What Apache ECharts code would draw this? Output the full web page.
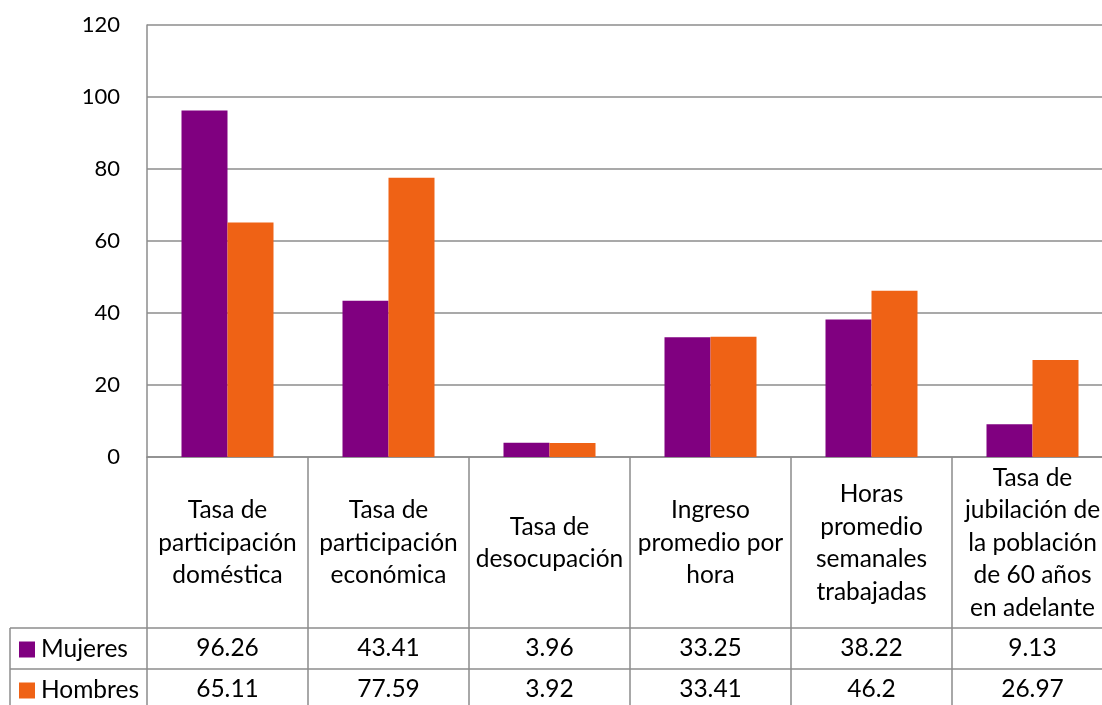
<!DOCTYPE html>
<html><head><meta charset="utf-8">
<script src="https://cdn.jsdelivr.net/npm/echarts@6/dist/echarts.min.js"></script>
<style>html,body{margin:0;padding:0;background:#fff}#c{width:1102px;height:705px}</style>
</head><body><div id="c"></div>
<script>
const categories = [
  'Tasa de\nparticipación\ndoméstica',
  'Tasa de\nparticipación\neconómica',
  'Tasa de\ndesocupación',
  'Ingreso\npromedio por\nhora',
  'Horas\npromedio\nsemanales\ntrabajadas',
  'Tasa de\njubilación de\nla población\nde 60 años\nen adelante'
];
const mujeres = [96.26, 43.41, 3.96, 33.25, 38.22, 9.13];
const hombres = [65.11, 77.59, 3.92, 33.41, 46.2, 26.97];
const yTicks = [0, 20, 40, 60, 80, 100, 120];

const FONT = 'Lato, "Open Sans", sans-serif';
const GRID = '#8c8c8c';
const PURPLE = '#800080';
const ORANGE = '#EF6215';
const FS = 24.5;

const chart = echarts.init(document.getElementById('c'), null, {renderer: 'canvas'});
const valueAxis = (arr, offset) => ({
  type: 'category', data: categories, position: 'bottom', offset: offset,
  axisLine: {show: false}, axisTick: {show: false},
  axisLabel: {
    margin: 0, verticalAlign: 'middle', interval: 0, fontFamily: FONT, fontSize: FS, color: '#000',
    formatter: (v, i) => String(arr[i])
  }
});
const legendItem = (name, top) => ({
  orient: 'vertical', left: 19, top: top, itemWidth: 16, itemHeight: 16,
  icon: 'rect', padding: 0,
  textStyle: {fontFamily: FONT, fontSize: FS, color: '#000', padding: [0, 0, 0, 1]},
  data: [name]
});
chart.setOption({
  animation: false,
  grid: {left: 147, top: 25, width: 966, bottom: 248, containLabel: false, outerBoundsMode: 'none'},
  legend: [legendItem('Mujeres', 637), legendItem('Hombres', 678)],
  xAxis: [
    {
      type: 'category', data: categories,
      axisLine: {show: true, lineStyle: {color: GRID, width: 1.5}},
      axisTick: {show: true, length: 260, lineStyle: {color: GRID, width: 1.5}},
      axisLabel: {
        margin: 86, verticalAlign: 'middle', align: 'center', interval: 0,
        fontFamily: FONT, fontSize: FS, lineHeight: 32.5, color: '#000'
      }
    },
    valueAxis(mujeres, 191),
    valueAxis(hombres, 232)
  ],
  yAxis: {
    type: 'value', min: 0, max: 120, interval: 20,
    axisLine: {show: true, lineStyle: {color: GRID, width: 1.5}},
    axisTick: {show: false},
    splitLine: {show: true, lineStyle: {color: GRID, width: 1.5}},
    axisLabel: {margin: 27, fontFamily: FONT, fontSize: 22, color: '#000',
      formatter: v => yTicks.includes(v) ? String(v) : ''}
  },
  series: [
    {name: 'Mujeres', type: 'bar', data: mujeres, barWidth: 46, barGap: '0%',
      itemStyle: {color: PURPLE}},
    {name: 'Hombres', type: 'bar', data: hombres, barWidth: 46, barGap: '0%',
      itemStyle: {color: ORANGE}}
  ]
});

// Data-table borders, positioned from the axis scales
const y0 = chart.convertToPixel({yAxisIndex: 0}, 0);
const xRight = chart.convertToPixel({xAxisIndex: 0}, categories.length - 1) + 100;
const r1 = y0 + 171, r2 = y0 + 212;
const line = (x1, y1, x2, y2) => ({type: 'line', silent: true,
  shape: {x1, y1, x2, y2}, style: {stroke: GRID, lineWidth: 1.5}});
chart.setOption({
  graphic: [
    line(10, r1, xRight, r1),
    line(10, r2, xRight, r2),
    line(10, r1, 10, r2 + 60)
  ]
});
</script></body></html>
